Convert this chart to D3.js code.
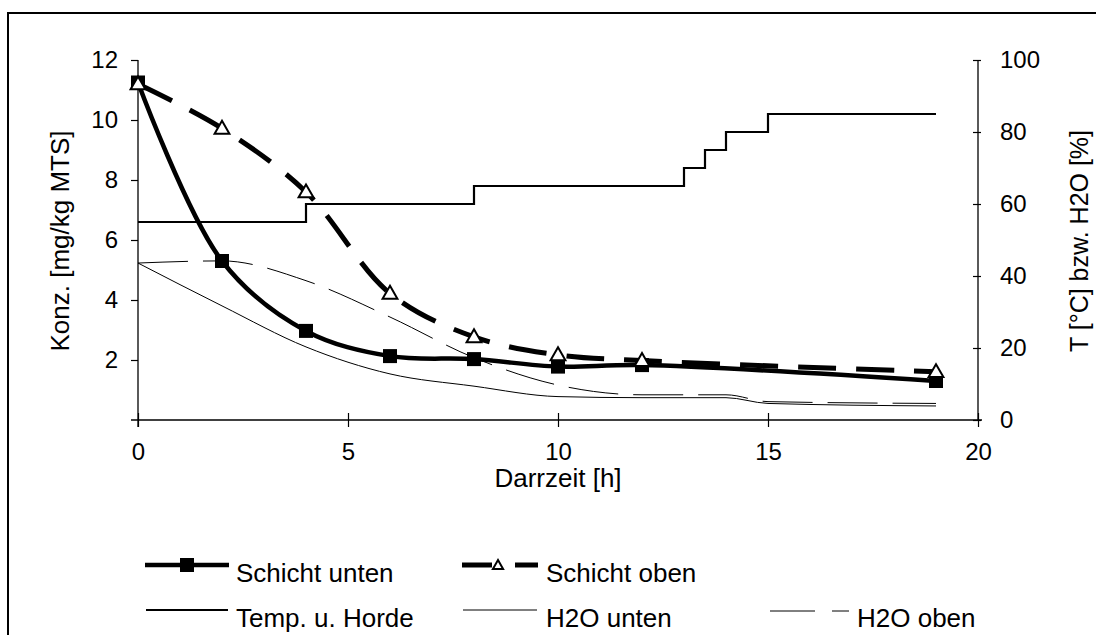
<!DOCTYPE html>
<html><head><meta charset="utf-8">
<script src="https://cdn.jsdelivr.net/npm/d3@7"></script>
<style>body{margin:0;background:#fff}svg{display:block;font-family:"Liberation Sans",Arial,sans-serif}</style>
</head><body><svg id="c" width="1096" height="635"></svg>
<script>
// ---- data ----
const hours = [0, 2, 4, 6, 8, 10, 12, 19];
const schichtUnten = [11.25, 5.3, 2.97, 2.13, 2.03, 1.78, 1.83, 1.3];
const schichtOben  = [11.2, 9.72, 7.6, 4.22, 2.77, 2.17, 1.98, 1.61];
const tempHours = [0, 4, 8, 13, 13.5, 14, 15, 19];
const tempValues = [55, 60, 65, 70, 75, 80, 85, 85];
const h2oHours = [0, 2, 4, 6, 8, 10, 12, 14, 15, 19];
const h2oUnten = [43.6, 31.7, 20.3, 12.8, 9.4, 6.5, 6.2, 6.2, 4.6, 3.9];
const h2oOben  = [43.6, 44.2, 38.7, 28.6, 17.3, 9.7, 7.0, 7.0, 5.1, 4.6];
const xTicks = [0, 5, 10, 15, 20];
const yLeftTicks = [2, 4, 6, 8, 10, 12];
const yRightTicks = [0, 20, 40, 60, 80, 100];

const svg = d3.select("#c");
const x = d3.scaleLinear().domain([0, 20]).range([138, 978]);
const yL = d3.scaleLinear().domain([0, 12]).range([420, 60]);
const yR = d3.scaleLinear().domain([0, 100]).range([420, 60]);

// outer frame
svg.append("rect").attr("x", 8).attr("y", 13).attr("width", 1200).attr("height", 800)
  .attr("fill", "none").attr("stroke", "#000").attr("stroke-width", 2);

// axes
const gx = svg.append("g").attr("transform", "translate(0,420)")
  .call(d3.axisBottom(x).tickValues(xTicks).tickSizeInner(7).tickSizeOuter(0).tickPadding(16));
gx.select(".domain").remove();
gx.append("line").attr("x1", 131).attr("x2", 982).attr("stroke", "#000").attr("stroke-width", 1.3);
gx.selectAll(".tick line").attr("y1", -7).attr("stroke-width", 1.2);
gx.selectAll(".tick text").attr("font-size", 24).attr("fill", "#000").attr("font-family", "Liberation Sans, Arial");

const gl = svg.append("g").attr("transform", "translate(138,0)")
  .call(d3.axisLeft(yL).tickValues(yLeftTicks).tickSizeInner(7).tickSizeOuter(0).tickPadding(13));
gl.select(".domain").remove();
gl.append("line").attr("y1", 60).attr("y2", 427).attr("stroke", "#000").attr("stroke-width", 1.3);
gl.selectAll(".tick line").attr("stroke-width", 1.2);
gl.selectAll(".tick text").attr("font-size", 24).attr("fill", "#000").attr("font-family", "Liberation Sans, Arial");

const gr = svg.append("g").attr("transform", "translate(978,0)")
  .call(d3.axisRight(yR).tickValues(yRightTicks).tickSizeInner(4).tickSizeOuter(0).tickPadding(18));
gr.select(".domain").remove();
gr.append("line").attr("y1", 60).attr("y2", 420).attr("stroke", "#000").attr("stroke-width", 1.3);
gr.selectAll(".tick line").attr("x1", -5).attr("x2", 3).attr("stroke-width", 1.2);
gr.selectAll(".tick text").attr("font-size", 24).attr("fill", "#000").attr("font-family", "Liberation Sans, Arial");

// axis titles
svg.append("text").attr("transform", "translate(60,241) rotate(-90)").attr("text-anchor", "middle")
  .attr("dominant-baseline", "central").attr("font-size", 26).text("Konz. [mg/kg MTS]");
svg.append("text").attr("transform", "translate(1079,241) rotate(-90)").attr("text-anchor", "middle")
  .attr("dominant-baseline", "central").attr("font-size", 25).text("T [°C] bzw. H2O [%]");
svg.append("text").attr("x", 558).attr("y", 487).attr("text-anchor", "middle")
  .attr("font-size", 26).text("Darrzeit [h]");

// lines
const lineR = (xs, ys, curve) => d3.line().x((d, i) => x(xs[i])).y(d => yR(d)).curve(curve)(ys);
const lineL = (xs, ys, curve) => d3.line().x((d, i) => x(xs[i])).y(d => yL(d)).curve(curve)(ys);

svg.append("path").attr("d", lineR(h2oHours, h2oUnten, d3.curveMonotoneX))
  .attr("fill", "none").attr("stroke", "#000").attr("stroke-width", 1);
svg.append("path").attr("d", lineR(h2oHours, h2oOben, d3.curveMonotoneX))
  .attr("fill", "none").attr("stroke", "#000").attr("stroke-width", 1).attr("stroke-dasharray", "50,15");
svg.append("path").attr("d", lineR(tempHours, tempValues, d3.curveStepAfter))
  .attr("fill", "none").attr("stroke", "#000").attr("stroke-width", 2.2);
svg.append("path").attr("d", lineL(hours, schichtUnten, d3.curveCatmullRom.alpha(0.5)))
  .attr("fill", "none").attr("stroke", "#000").attr("stroke-width", 4.5);
svg.append("path").attr("d", lineL(hours, schichtOben, d3.curveCatmullRom.alpha(0.5)))
  .attr("fill", "none").attr("stroke", "#000").attr("stroke-width", 5).attr("stroke-dasharray", "38,20");

// markers
const sq = 14;
svg.append("g").selectAll("rect").data(schichtUnten).join("rect")
  .attr("x", (d, i) => x(hours[i]) - sq / 2).attr("y", d => yL(d) - sq / 2)
  .attr("width", sq).attr("height", sq).attr("fill", "#000");
const tri = d3.symbol().type(d3.symbolTriangle).size(95);
svg.append("g").selectAll("path").data(schichtOben).join("path")
  .attr("d", tri).attr("transform", (d, i) => `translate(${x(hours[i])},${yL(d) + 1})`)
  .attr("fill", "#fff").attr("stroke", "#000").attr("stroke-width", 2);

// legend
const lg = svg.append("g").attr("font-size", 26);
// row 1
lg.append("line").attr("x1", 145).attr("x2", 229).attr("y1", 565).attr("y2", 565).attr("stroke", "#000").attr("stroke-width", 4.5);
lg.append("rect").attr("x", 180).attr("y", 558).attr("width", 14).attr("height", 14).attr("fill", "#000");
lg.append("text").attr("x", 236).attr("y", 582).text("Schicht unten");
lg.append("line").attr("x1", 462).attr("x2", 492).attr("y1", 565).attr("y2", 565).attr("stroke", "#000").attr("stroke-width", 5);
lg.append("line").attr("x1", 515).attr("x2", 538).attr("y1", 565).attr("y2", 565).attr("stroke", "#000").attr("stroke-width", 5);
lg.append("path").attr("d", d3.symbol().type(d3.symbolTriangle).size(45)).attr("transform", "translate(498,566)")
  .attr("fill", "#fff").attr("stroke", "#000").attr("stroke-width", 2);
lg.append("text").attr("x", 546).attr("y", 582).text("Schicht oben");
// row 2
lg.append("line").attr("x1", 146).attr("x2", 228).attr("y1", 610).attr("y2", 610).attr("stroke", "#000").attr("stroke-width", 2.2);
lg.append("text").attr("x", 236).attr("y", 627).text("Temp. u. Horde");
lg.append("line").attr("x1", 463).attr("x2", 537).attr("y1", 610).attr("y2", 610).attr("stroke", "#000").attr("stroke-width", 1);
lg.append("text").attr("x", 546).attr("y", 627).text("H2O unten");
lg.append("line").attr("x1", 770).attr("x2", 815).attr("y1", 611).attr("y2", 611).attr("stroke", "#000").attr("stroke-width", 1);
lg.append("line").attr("x1", 832).attr("x2", 849).attr("y1", 611).attr("y2", 611).attr("stroke", "#000").attr("stroke-width", 1);
lg.append("text").attr("x", 857).attr("y", 627).text("H2O oben");
</script></body></html>
